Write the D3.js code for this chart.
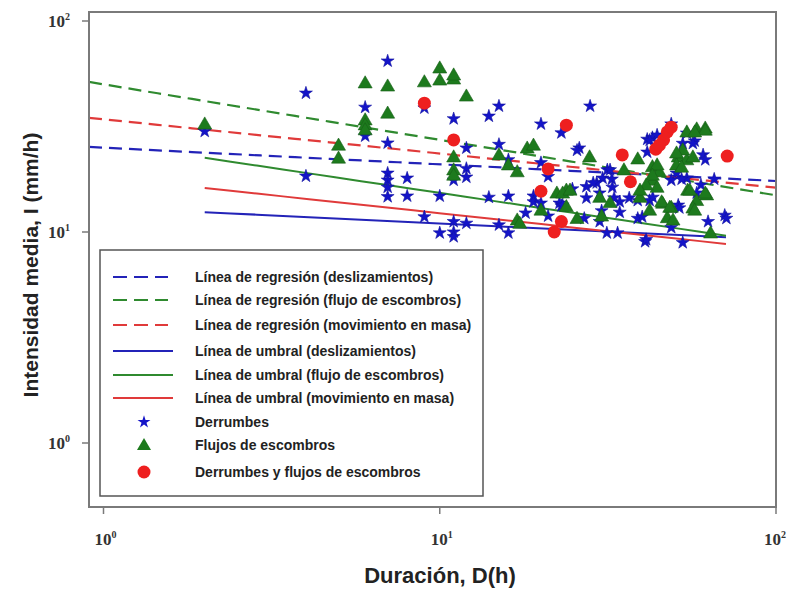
<!DOCTYPE html>
<html><head><meta charset="utf-8">
<script src="https://cdn.jsdelivr.net/npm/d3@7"></script>
<style>html,body{margin:0;padding:0;background:#fff;}</style>
</head><body>
<svg id="chart" width="789" height="590"></svg>
<script>
// ---- Data ----
// Derrumbes (stars): duration D (h), intensity I (mm/h)
const derrD = [2.0,4.0,4.0,7.0,6.0,6.0,7.0,7.0,7.0,7.0,7.0,8.0,8.0,9.0,11.0,12.0,12.0,12.0,11.0,10.0,9.0,10.0,11.0,11.0,11.0,12.0,14.0,15.0,15.0,16.0,14.0,16.0,15.0,16.0,18.0,20.0,23.0,20.0,21.0,19.0,19.0,21.0,23.0,28.0,26.0,20.0,31.5,30.5,32.5,29.3,27.3,24.8,22.7,27.3,34.3,36.6,38.8,38.8,34.3,26.9,29.9,31.4,33.8,40.8,48.8,52.8,62.8,70.4,71.2,41.4,42.9,41.4,48.8,52.8,57.3,60.7,61.6,50.6,54.3,59.8,65.5,58.1,51.2,44.3,54.3,56.6,48.8,52.4,42.1,40.0,51.6,41.1,25.6,32.1,28.6,32.6,29.9,33.0,23.2,30.3,43.0,42.1];
const derrI = [30.0,45.5,18.4,64.6,39.0,28.5,26.4,19.0,17.6,16.3,14.7,18.0,14.8,38.7,34.4,25.0,20.0,18.2,17.6,14.8,11.8,9.9,11.2,10.0,9.5,11.0,35.4,39.5,26.0,22.0,14.6,14.8,10.8,9.9,12.3,32.5,29.5,21.3,18.3,14.8,13.9,11.9,13.3,39.5,25.0,13.7,19.7,18.0,17.8,17.1,16.4,16.0,13.7,14.5,13.9,14.5,14.1,11.6,12.4,11.6,11.2,9.9,9.9,9.0,10.5,8.9,11.2,12.0,11.6,27.5,28.0,23.9,32.5,26.3,27.0,23.2,22.0,19.0,18.0,16.7,17.8,15.3,13.4,28.8,29.4,26.3,17.6,17.8,14.1,11.8,13.0,9.2,24.4,19.7,17.1,16.3,15.3,14.5,13.4,12.6,14.6,27.2];
// Flujos de escombros (triangles)
const flujD = [2.0,5.0,5.0,6.0,7.0,7.0,6.0,6.0,6.0,9.0,10.0,10.0,11.0,11.0,12.0,11.0,11.0,11.0,15.0,16.0,17.0,18.2,19.0,17.0,20.0,22.3,23.8,27.9,38.8,35.3,42.9,45.0,42.9,44.3,23.2,24.4,23.8,29.9,32.1,39.4,54.6,58.1,56.6,62.2,30.3,46.0,48.8,47.5,25.6,63.9,17.3,54.3,58.1,61.6,51.2,54.3,52.8,50.6,56.6,61.6,57.3,50.6,52.4,44.3,42.9,41.1,39.4,55.4,61.6,57.3,45.7,48.3,49.4,42.1];
const flujI = [32.5,25.8,22.4,50.9,49.2,36.6,34.0,32.2,30.5,51.5,59.9,52.5,53.1,55.5,44.1,22.7,19.7,18.6,23.2,20.8,19.3,25.0,25.8,11.4,12.7,15.3,15.8,22.7,22.2,19.7,20.4,19.3,17.6,16.3,15.3,15.8,13.2,14.6,13.8,14.6,15.8,14.1,13.0,15.0,11.9,13.7,13.1,11.7,11.6,9.9,11.0,29.8,30.8,31.1,22.7,22.0,24.5,20.8,22.7,30.4,29.8,23.7,20.3,20.8,18.6,16.7,15.8,15.8,15.3,12.7,13.9,13.1,11.4,12.7];
// Derrumbes y flujos de escombros (circles)
const ambosD = [9.0,11.0,23.8,21.0,20.0,23.0,21.9,34.9,36.9,43.9,46.3,47.5,48.8,71.6,45.0];
const ambosI = [40.8,27.3,32.1,19.9,15.6,11.2,10.0,23.2,17.3,24.7,27.3,29.8,31.4,22.9,25.8];

// Power-law lines I = a * D^b : [deslizamientos, flujo de escombros, movimiento en masa]
const regA = [25.1, 50.1, 34.2];
const regB = [-0.079, -0.263, -0.162];
const umbA = [13.1, 26.5, 18.2];
const umbB = [-0.077, -0.238, -0.171];
const umbRange = [2, 71];

const lineColors = ["#2323b8", "#2f8a2f", "#e03a3a"];
const legendLabels = [
  "Línea de regresión (deslizamientos)",
  "Línea de regresión (flujo de escombros)",
  "Línea de regresión (movimiento en masa)",
  "Línea de umbral (deslizamientos)",
  "Línea de umbral (flujo de escombros)",
  "Línea de umbral (movimiento en masa)",
  "Derrumbes",
  "Flujos de escombros",
  "Derrumbes y flujos de escombros"
];
const xTicks = [1, 10, 100];
const yTicks = [1, 10, 100];
const tickExp = ["0", "1", "2"];

// ---- Layout ----
const svg = d3.select("#chart");
const frame = {left: 89, right: 776, top: 12, bottom: 507};
const x = d3.scaleLog().domain([1, 100]).range([103.5, 776]);
const y = d3.scaleLog().domain([1, 100]).range([443, 21]);

const plotG = svg.append("g");
svg.append("defs").append("clipPath").attr("id", "clip")
  .append("rect").attr("x", frame.left).attr("y", frame.top)
  .attr("width", frame.right - frame.left).attr("height", frame.bottom - frame.top);
plotG.attr("clip-path", "url(#clip)");

const line = d3.line().x(d => x(d[0])).y(d => y(d[1]));
function powerPts(a, b, d0, d1) {
  const pts = [];
  for (let i = 0; i <= 20; i++) {
    const ld = Math.log10(d0) + (Math.log10(d1) - Math.log10(d0)) * i / 20;
    const d = Math.pow(10, ld);
    pts.push([d, a * Math.pow(d, b)]);
  }
  return pts;
}
const dLeft = x.invert(frame.left), dRight = x.invert(frame.right);

regA.forEach((a, i) => {
  plotG.append("path").attr("d", line(powerPts(a, regB[i], dLeft, dRight)))
    .attr("fill", "none").attr("stroke", lineColors[i]).attr("stroke-width", 2.2)
    .attr("stroke-dasharray", "13,7");
});
umbA.forEach((a, i) => {
  plotG.append("path").attr("d", line(powerPts(a, umbB[i], umbRange[0], umbRange[1])))
    .attr("fill", "none").attr("stroke", lineColors[i]).attr("stroke-width", 2);
});

const starSym = d3.symbol().type(d3.symbolStar).size(52);
const triSym = d3.symbol().type(d3.symbolTriangle).size(85);
const starColor = "#1414c8", triColor = "#1d7a1d", circColor = "#ee1f1f";

plotG.selectAll(".star").data(derrD.map((d, i) => [d, derrI[i]])).enter()
  .append("path").attr("d", starSym)
  .attr("transform", d => `translate(${x(d[0])},${y(d[1])})`)
  .attr("fill", starColor).attr("stroke", "#1010a0").attr("stroke-width", 0.6);
plotG.selectAll(".tri").data(flujD.map((d, i) => [d, flujI[i]])).enter()
  .append("path").attr("d", triSym)
  .attr("transform", d => `translate(${x(d[0])},${y(d[1]) + 1})`)
  .attr("fill", triColor).attr("stroke", "#176017").attr("stroke-width", 0.6);
plotG.selectAll(".circ").data(ambosD.map((d, i) => [d, ambosI[i]])).enter()
  .append("circle").attr("cx", d => x(d[0])).attr("cy", d => y(d[1])).attr("r", 6.5)
  .attr("fill", circColor);

svg.append("rect").attr("x", frame.left).attr("y", frame.top)
  .attr("width", frame.right - frame.left).attr("height", frame.bottom - frame.top)
  .attr("fill", "none").attr("stroke", "#7a7a7a").attr("stroke-width", 2);

function tickLabel(xx, yy, anchor, exp) {
  const tx = svg.append("text").attr("x", xx).attr("y", yy)
    .attr("text-anchor", anchor).attr("font-family", "Liberation Serif, serif")
    .attr("font-weight", "bold").attr("font-size", 17).attr("fill", "#333");
  tx.append("tspan").text("10");
  tx.append("tspan").attr("dy", -7).attr("font-size", 10).text(exp);
}
yTicks.forEach((t, i) => {
  svg.append("line").attr("x1", frame.left - 7).attr("x2", frame.left)
    .attr("y1", y(t)).attr("y2", y(t)).attr("stroke", "#7a7a7a").attr("stroke-width", 1.5);
  tickLabel(70, y(t) + 6, "end", tickExp[i]);
});
xTicks.forEach((t, i) => {
  svg.append("line").attr("x1", x(t)).attr("x2", x(t))
    .attr("y1", frame.bottom).attr("y2", frame.bottom + 7).attr("stroke", "#7a7a7a").attr("stroke-width", 1.5);
  tickLabel(i === xTicks.length - 1 ? x(t) - 1 : x(t) + 2, 545, "middle", tickExp[i]);
});

svg.append("text").attr("x", 440).attr("y", 583).attr("text-anchor", "middle")
  .attr("font-family", "Liberation Sans, Arial, sans-serif").attr("font-weight", "bold")
  .attr("font-size", 22).attr("fill", "#222").text("Duración, D(h)");
svg.append("text").attr("transform", "translate(38,265) rotate(-90)").attr("text-anchor", "middle")
  .attr("font-family", "Liberation Sans, Arial, sans-serif").attr("font-weight", "bold")
  .attr("font-size", 21).attr("fill", "#222").text("Intensidad media, I (mm/h)");

const lg = svg.append("g");
lg.append("rect").attr("x", 100).attr("y", 250).attr("width", 383).attr("height", 246)
  .attr("fill", "#fff").attr("stroke", "#555").attr("stroke-width", 1.5);
const rowY = [277, 300, 325, 351, 375, 398, 422, 445, 472];
legendLabels.forEach((lab, i) => {
  const yy = rowY[i];
  if (i < 3) {
    lg.append("line").attr("x1", 113).attr("x2", 168).attr("y1", yy).attr("y2", yy)
      .attr("stroke", lineColors[i]).attr("stroke-width", 2.2).attr("stroke-dasharray", "14,7");
  } else if (i < 6) {
    lg.append("line").attr("x1", 113).attr("x2", 173).attr("y1", yy).attr("y2", yy)
      .attr("stroke", lineColors[i - 3]).attr("stroke-width", 2.2);
  } else if (i === 6) {
    lg.append("path").attr("d", starSym).attr("transform", `translate(144,${yy})`).attr("fill", starColor);
  } else if (i === 7) {
    lg.append("path").attr("d", triSym).attr("transform", `translate(144,${yy + 1})`).attr("fill", triColor);
  } else {
    lg.append("circle").attr("cx", 144).attr("cy", yy).attr("r", 6.5).attr("fill", circColor);
  }
  lg.append("text").attr("x", 195).attr("y", yy + 5)
    .attr("font-family", "Liberation Sans, Arial, sans-serif").attr("font-weight", "bold")
    .attr("font-size", 14).attr("fill", "#222").text(lab);
});
</script>
</body></html>
